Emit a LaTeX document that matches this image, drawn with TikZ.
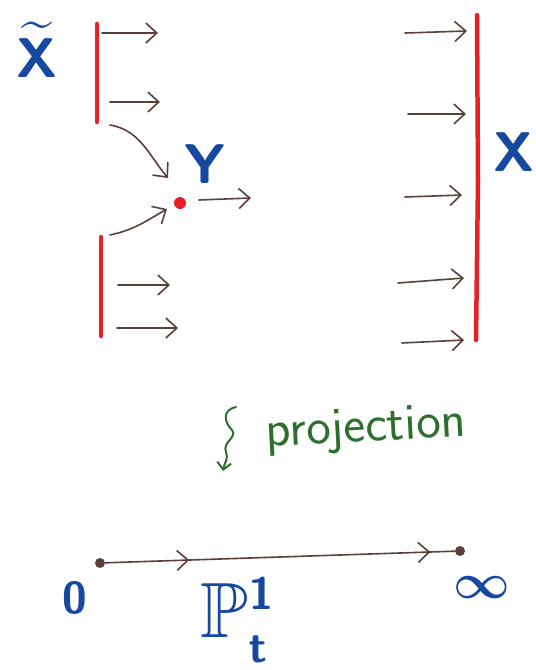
\documentclass[tikz,border=0pt]{standalone}
\usepackage{amsmath}
\usepackage{amssymb}
\usepackage{xcolor}
\usetikzlibrary{arrows.meta, decorations.markings}
\definecolor{inkblue}{RGB}{22, 72, 160}
\definecolor{inkred}{RGB}{232, 32, 40}
\definecolor{inkbrown}{RGB}{92, 62, 58}
\definecolor{inkgreen}{RGB}{45, 112, 45}

\begin{document}
\begin{tikzpicture}[x=1pt, y=-1pt,
    wall/.style={inkred, line width=4.5pt, line cap=round},
    fl/.style={-{Straight Barb[length=11pt, width=20pt]}, line width=1.6pt, inkbrown, line cap=round},
    lbl/.style={inkblue, font=\huge\sffamily\bfseries\boldmath, scale=2.7, inner sep=0pt},
    pt/.style={circle, fill=#1, inner sep=0pt, minimum size=10pt}
]
\useasboundingbox (0,0) rectangle (536,670);

% the two pieces of X-tilde and the line X
\draw[wall] (97,24) -- (97,122);
\draw[wall] (101,237) -- (101,336);
\draw[wall] (477,15) -- (478,180) -- (476,340);

\node[lbl] (xt) at (37,50) {$\widetilde{\mathsf{X}}$};
\node[lbl] (xx) at (514,152) {X};
\node[lbl] (yy) at (205,164) {Y};
\node[pt=inkred, minimum size=12pt] (ydot) at (180,203) {};

% flow on the left
\coordinate (a1) at (102,33);  \coordinate (b1) at (158,33);
\coordinate (a2) at (110,102); \coordinate (b2) at (160,102);
\coordinate (a3) at (118,285); \coordinate (b3) at (170,285);
\coordinate (a4) at (117,328); \coordinate (b4) at (178,328);
\foreach \i in {1,...,4}
    \draw[fl] (a\i) -- (b\i);
\coordinate (c1) at (110,125);
\coordinate (c2) at (168,178);
\coordinate (c3) at (110,235);
\coordinate (c4) at (167,209);
\coordinate (c0) at (199,200);
\coordinate (c5) at (251,198);
\draw[fl] (c1) to[out=-10, in=130] (c2);
\draw[fl] (c3) to[out=12, in=-150] (c4);
\draw[fl] (c0) -- (c5);

% flow on the right
\coordinate (r1) at (405,33);  \coordinate (s1) at (467,31);
\coordinate (r2) at (408,114); \coordinate (s2) at (466,114);
\coordinate (r3) at (405,197); \coordinate (s3) at (462,195);
\coordinate (r4) at (398,283); \coordinate (s4) at (464,278);
\coordinate (r5) at (402,343); \coordinate (s5) at (464,340);
\foreach \i in {1,...,5}
    \draw[fl] (r\i) -- (s\i);

% projection
\coordinate (pa) at (236,407);
\coordinate (pb) at (223,471);
\draw[inkgreen, line width=2pt, line cap=round, -{Straight Barb[length=7pt, width=14pt]}]
    (pa) .. controls (222,410) and (224,422) .. (232,430)
         .. controls (238,437) and (222,442) .. (226,452)
         .. controls (229,458) and (224,464) .. (pb);
\node[inkgreen, font=\fontsize{52}{52}\selectfont\sffamily, rotate=3, inner sep=0pt] (proj) at (366,430) {projection};

% the line P^1
\node[pt=inkbrown] (zero) at (100,563) {};
\node[pt=inkbrown] (inf) at (460,551) {};
\draw[inkbrown, line width=1.6pt, postaction={decorate}, decoration={markings,
      mark=at position 0.24 with {\arrow{Straight Barb[length=11pt, width=20pt]}},
      mark=at position 0.93 with {\arrow{Straight Barb[length=11pt, width=20pt]}}}]
    (zero) -- (inf);
\node[lbl, scale=0.8] (lz) at (75,598) {0};
\node[lbl, scale=0.88] (li) at (482,588) {$\infty$};
\node[lbl, scale=1.4] (pp) at (238,620) {$\mathbb{P}^{\scriptscriptstyle\mathsf{1}}_{\scriptscriptstyle\mathsf{t}}$};
\end{tikzpicture}
\end{document}
